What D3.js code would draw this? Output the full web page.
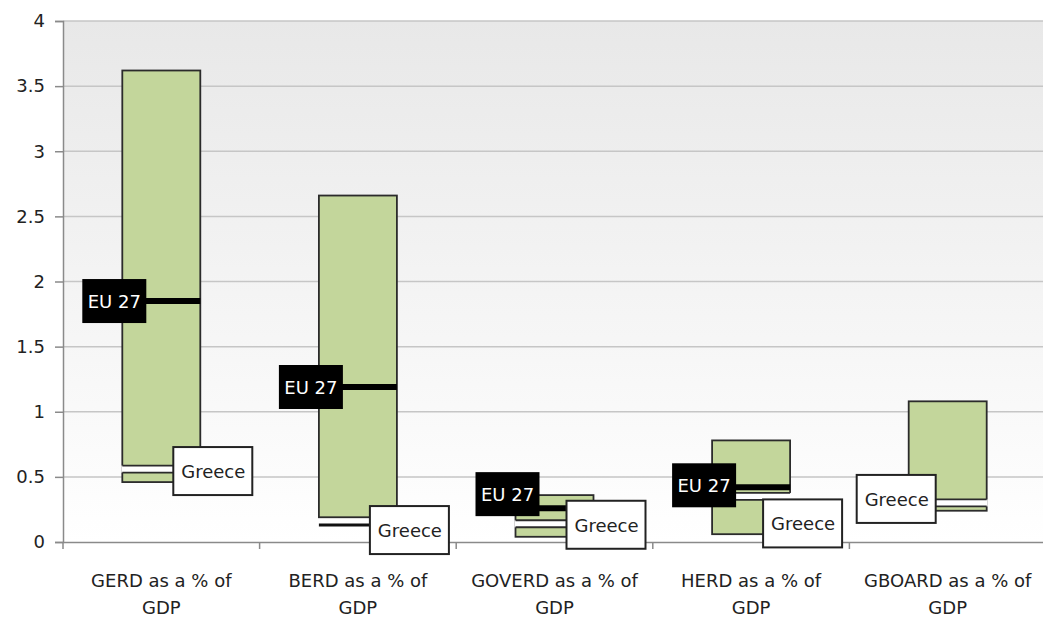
<!DOCTYPE html>
<html>
<head>
<meta charset="utf-8">
<script src="https://cdn.jsdelivr.net/npm/d3@7"></script>
<style>
  body { margin: 0; background: #fff; }
  svg text { font-family: "DejaVu Sans", sans-serif; }
</style>
</head>
<body>
<div id="chart"></div>
<script>
// data
var categories = ["GERD as a % of GDP", "BERD as a % of GDP", "GOVERD as a % of GDP", "HERD as a % of GDP", "GBOARD as a % of GDP"];
var rangeMin = [0.46, 0.19, 0.04, 0.06, 0.24];
var rangeMax = [3.62, 2.66, 0.36, 0.78, 1.08];
var eu27 = [1.85, 1.19, 0.26, 0.42, null];
var greece = [0.56, 0.13, 0.14, 0.35, 0.30];
var yTicks = [0, 0.5, 1, 1.5, 2, 2.5, 3, 3.5, 4];

// label nudges (px) so boxes do not sit on each other
var euNudge = [0, 0, -14, -2, 0];
var grNudge = [2, 5, 1, 27, -4];

function init() {
  var w = 1043, h = 619;
  var left = 63, top = 21, bottom = 542, right = 1046;

  var svg = d3.select("#chart").append("svg")
    .attr("width", w).attr("height", h);

  var defs = svg.append("defs");
  var grad = defs.append("linearGradient").attr("id", "bg")
    .attr("x1", 0).attr("y1", 0).attr("x2", 0).attr("y2", 1);
  grad.append("stop").attr("offset", "0%").attr("stop-color", "#e8e8e8");
  grad.append("stop").attr("offset", "100%").attr("stop-color", "#ffffff");

  var xScale = d3.scaleBand().domain(categories).range([left, right]);
  var yScale = d3.scaleLinear().domain([0, 4]).range([bottom, top]);
  var barW = 78;

  svg.append("rect")
    .attr("x", left).attr("y", top)
    .attr("width", right - left).attr("height", bottom - top)
    .attr("fill", "url(#bg)");

  // grid
  svg.append("g").selectAll("line")
    .data(yTicks.filter(function(d) { return d > 0; }))
    .enter().append("line")
    .attr("x1", left).attr("x2", right)
    .attr("y1", function(d) { return yScale(d); })
    .attr("y2", function(d) { return yScale(d); })
    .attr("stroke", "#c6c6c6").attr("stroke-width", 1.5);

  // axes
  var yAxis = d3.axisLeft(yScale).tickValues(yTicks).tickSize(8).tickPadding(10)
    .tickFormat(function(d) { return d; });
  var gy = svg.append("g").attr("transform", "translate(" + left + ",0)").call(yAxis);
  gy.select(".domain").attr("stroke", "#8a8a8a").attr("stroke-width", 1.5);
  gy.selectAll(".tick line").attr("stroke", "#8a8a8a").attr("stroke-width", 1.5);
  gy.selectAll(".tick text").attr("font-size", "18px").attr("fill", "#222")
    .attr("font-family", "'DejaVu Sans', sans-serif");

  var xAxis = d3.axisBottom(xScale).tickSize(0).tickFormat("");
  var gx = svg.append("g").attr("transform", "translate(0," + bottom + ")").call(xAxis);
  gx.select(".domain").attr("stroke", "#8a8a8a").attr("stroke-width", 1.5);
  // band boundary ticks
  gx.selectAll("line.sep")
    .data(categories.map(function(c) { return xScale(c); }).concat([right]))
    .enter().append("line").attr("class", "sep")
    .attr("x1", function(d) { return d; }).attr("x2", function(d) { return d; })
    .attr("y1", 0).attr("y2", 7)
    .attr("stroke", "#8a8a8a").attr("stroke-width", 1.5);

  // category labels on two lines
  var lab = svg.append("g").selectAll("text").data(categories).enter().append("text")
    .attr("x", function(d) { return xScale(d) + xScale.bandwidth() / 2; })
    .attr("text-anchor", "middle").attr("font-size", "18px").attr("fill", "#222");
  lab.append("tspan")
    .attr("x", function(d) { return xScale(d) + xScale.bandwidth() / 2; })
    .attr("y", 587)
    .text(function(d) { return d.replace(" GDP", ""); });
  lab.append("tspan")
    .attr("x", function(d) { return xScale(d) + xScale.bandwidth() / 2; })
    .attr("y", 614)
    .text("GDP");

  function bx(i) { return xScale(categories[i]) + xScale.bandwidth() / 2 - barW / 2; }

  // range bars
  svg.append("g").selectAll("rect").data(categories).enter().append("rect")
    .attr("x", function(d, i) { return bx(i); })
    .attr("y", function(d, i) { return yScale(rangeMax[i]); })
    .attr("width", barW)
    .attr("height", function(d, i) { return yScale(rangeMin[i]) - yScale(rangeMax[i]); })
    .attr("fill", "#c3d69b").attr("stroke", "#2b2b2b").attr("stroke-width", 1.8);

  // Greece marker
  var gm = svg.append("g");
  categories.forEach(function(c, i) {
    var g = greece[i], y = yScale(g), x = bx(i);
    if (g > rangeMin[i] && g < rangeMax[i]) {
      gm.append("rect").attr("x", x - 1).attr("y", y - 3.5)
        .attr("width", barW + 2).attr("height", 7).attr("fill", "#fff");
      gm.append("line").attr("x1", x).attr("x2", x + barW)
        .attr("y1", y - 3.5).attr("y2", y - 3.5).attr("stroke", "#2b2b2b").attr("stroke-width", 1.8);
      gm.append("line").attr("x1", x).attr("x2", x + barW)
        .attr("y1", y + 3.5).attr("y2", y + 3.5).attr("stroke", "#2b2b2b").attr("stroke-width", 1.8);
    } else {
      gm.append("line").attr("x1", x).attr("x2", x + barW)
        .attr("y1", y).attr("y2", y).attr("stroke", "#111").attr("stroke-width", 3);
    }
  });

  // EU 27 line + label
  var eu = svg.append("g");
  categories.forEach(function(c, i) {
    if (eu27[i] == null) return;
    var y = yScale(eu27[i]), x = bx(i);
    eu.append("line").attr("x1", x).attr("x2", x + barW)
      .attr("y1", y).attr("y2", y).attr("stroke", "#000").attr("stroke-width", 6);
    var cy = y + euNudge[i];
    eu.append("rect").attr("x", x - 40).attr("y", cy - 22)
      .attr("width", 64).attr("height", 44).attr("fill", "#000");
    eu.append("text").attr("x", x - 8).attr("y", cy + 7)
      .attr("text-anchor", "middle").attr("font-size", "18px").attr("fill", "#fff")
      .text("EU 27");
  });

  // Greece label boxes
  var gl = svg.append("g");
  categories.forEach(function(c, i) {
    var y = yScale(greece[i]) + grNudge[i], x = bx(i);
    var bxLeft = eu27[i] == null ? x + 27 - 79 : x + barW - 27;
    gl.append("rect").attr("x", bxLeft).attr("y", y - 24)
      .attr("width", 79).attr("height", 48)
      .attr("fill", "#fff").attr("stroke", "#222").attr("stroke-width", 2);
    gl.append("text").attr("x", bxLeft + 40).attr("y", y + 7)
      .attr("text-anchor", "middle").attr("font-size", "18px").attr("fill", "#222")
      .text("Greece");
  });
}

window.onload = init;
</script>
</body>
</html>
